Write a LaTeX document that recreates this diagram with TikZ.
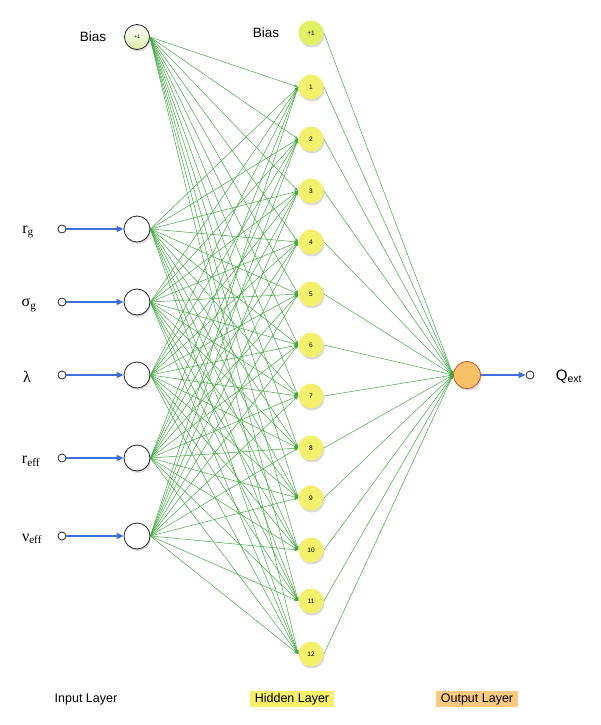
\documentclass[tikz,border=0pt]{standalone}
\usepackage{fontspec}
\setmainfont{Liberation Sans}
\newfontfamily\serif{Liberation Serif}
\usetikzlibrary{arrows.meta,shadows}

\definecolor{linkgreen}{HTML}{3FA83F}
\definecolor{inblue}{HTML}{3F6FD6}
\definecolor{hidyellow}{HTML}{F5F06C}
\definecolor{outorange}{HTML}{F9C06A}
\definecolor{outline}{HTML}{C0582C}
\definecolor{biasgreen}{HTML}{D8F0A8}

\tikzset{
    unit/.style={circle, draw=black!85, thick, inner sep=0pt,
        drop shadow={shadow xshift=1pt, shadow yshift=-2pt, opacity=0.3}},
    inunit/.style={unit, fill=white, minimum size=26pt},
    hidunit/.style={unit, draw=none, fill=hidyellow, minimum size=25pt, font=\fontsize{6.5}{7}\selectfont},
    outunit/.style={unit, draw=outline, fill=outorange, minimum size=27pt},
    port/.style={circle, draw=black!85, thick, fill=white, minimum size=8pt, inner sep=0pt},
    link/.style={linkgreen, line width=0.5pt, -{Stealth[length=4pt, width=3pt]}},
    feed/.style={inblue, line width=1.6pt, -{Triangle[length=7pt, width=6pt]}},
    lbl/.style={font=\fontsize{13.5}{15}\selectfont},
    sym/.style={font=\fontsize{16}{18}\serif},
    layer/.style={font=\fontsize{12.5}{14}\selectfont, inner xsep=5pt, inner ysep=2pt}
}

\begin{document}
\begin{tikzpicture}[x=1pt, y=-1pt]
    \useasboundingbox (0, 0) rectangle (600, 725);
    \node[inunit, draw=black!85, top color=white, bottom color=biasgreen, minimum size=25pt, font=\fontsize{5}{6}\selectfont] (ib) at (137, 37) {+1};
    \node[inunit] (i1) at (137, 229) {};
    \node[inunit] (i2) at (137, 302) {};
    \node[inunit] (i3) at (137, 375) {};
    \node[inunit] (i4) at (137, 458) {};
    \node[inunit] (i5) at (137, 536) {};
    \node[hidunit, fill=hidyellow!92!green] (hb) at (311, 33) {+1};
    \foreach \j/\y in {1/87, 2/139, 3/191, 4/242, 5/294, 6/345, 7/396, 8/448, 9/498, 10/550, 11/601, 12/654}
        \node[hidunit] (h\j) at (311, \y) {\j};
    \node[outunit] (o) at (467, 375) {};
    \node[lbl] (bi) at (93, 37) {Bias};
    \node[lbl] (bh) at (266, 33) {Bias};
    \node[port] (p1) at (62, 229) {};
    \node[port] (p2) at (62, 302) {};
    \node[port] (p3) at (62, 375) {};
    \node[port] (p4) at (62, 458) {};
    \node[port] (p5) at (62, 536) {};
    \node[port] (q) at (530, 375) {};
    \node[sym] (l1) at (28, 232) {r\textsubscript{g}};
    \node[sym] (l2) at (29, 305) {σ\textsubscript{g}};
    \node[sym] (l3) at (27, 377) {λ};
    \node[sym] (l4) at (31, 461) {r\textsubscript{eff}};
    \node[sym] (l5) at (32, 539) {ν\textsubscript{eff}};
    \node[lbl, font=\fontsize{15}{17}\selectfont] (lq) at (569, 377) {Q\textsubscript{ext}};
    \foreach \k in {1,...,5}
        \draw[feed] (p\k) -- (i\k);
    \draw[feed] (o) -- (q);
    \foreach \i in {b,1,2,3,4,5}
        \foreach \j in {1,...,12}
            \draw[link] (i\i.east) -- (h\j.west);
    \foreach \j in {b,1,2,3,4,5,6,7,8,9,10,11,12}
        \draw[link] (h\j.east) -- (o.west);
    \node[layer] (li) at (86, 699) {Input Layer};
    \node[layer, fill=hidyellow] (lh) at (292, 699) {Hidden Layer};
    \node[layer, fill=outorange!85!white] (lo) at (477, 699) {Output Layer};
\end{tikzpicture}
\end{document}
